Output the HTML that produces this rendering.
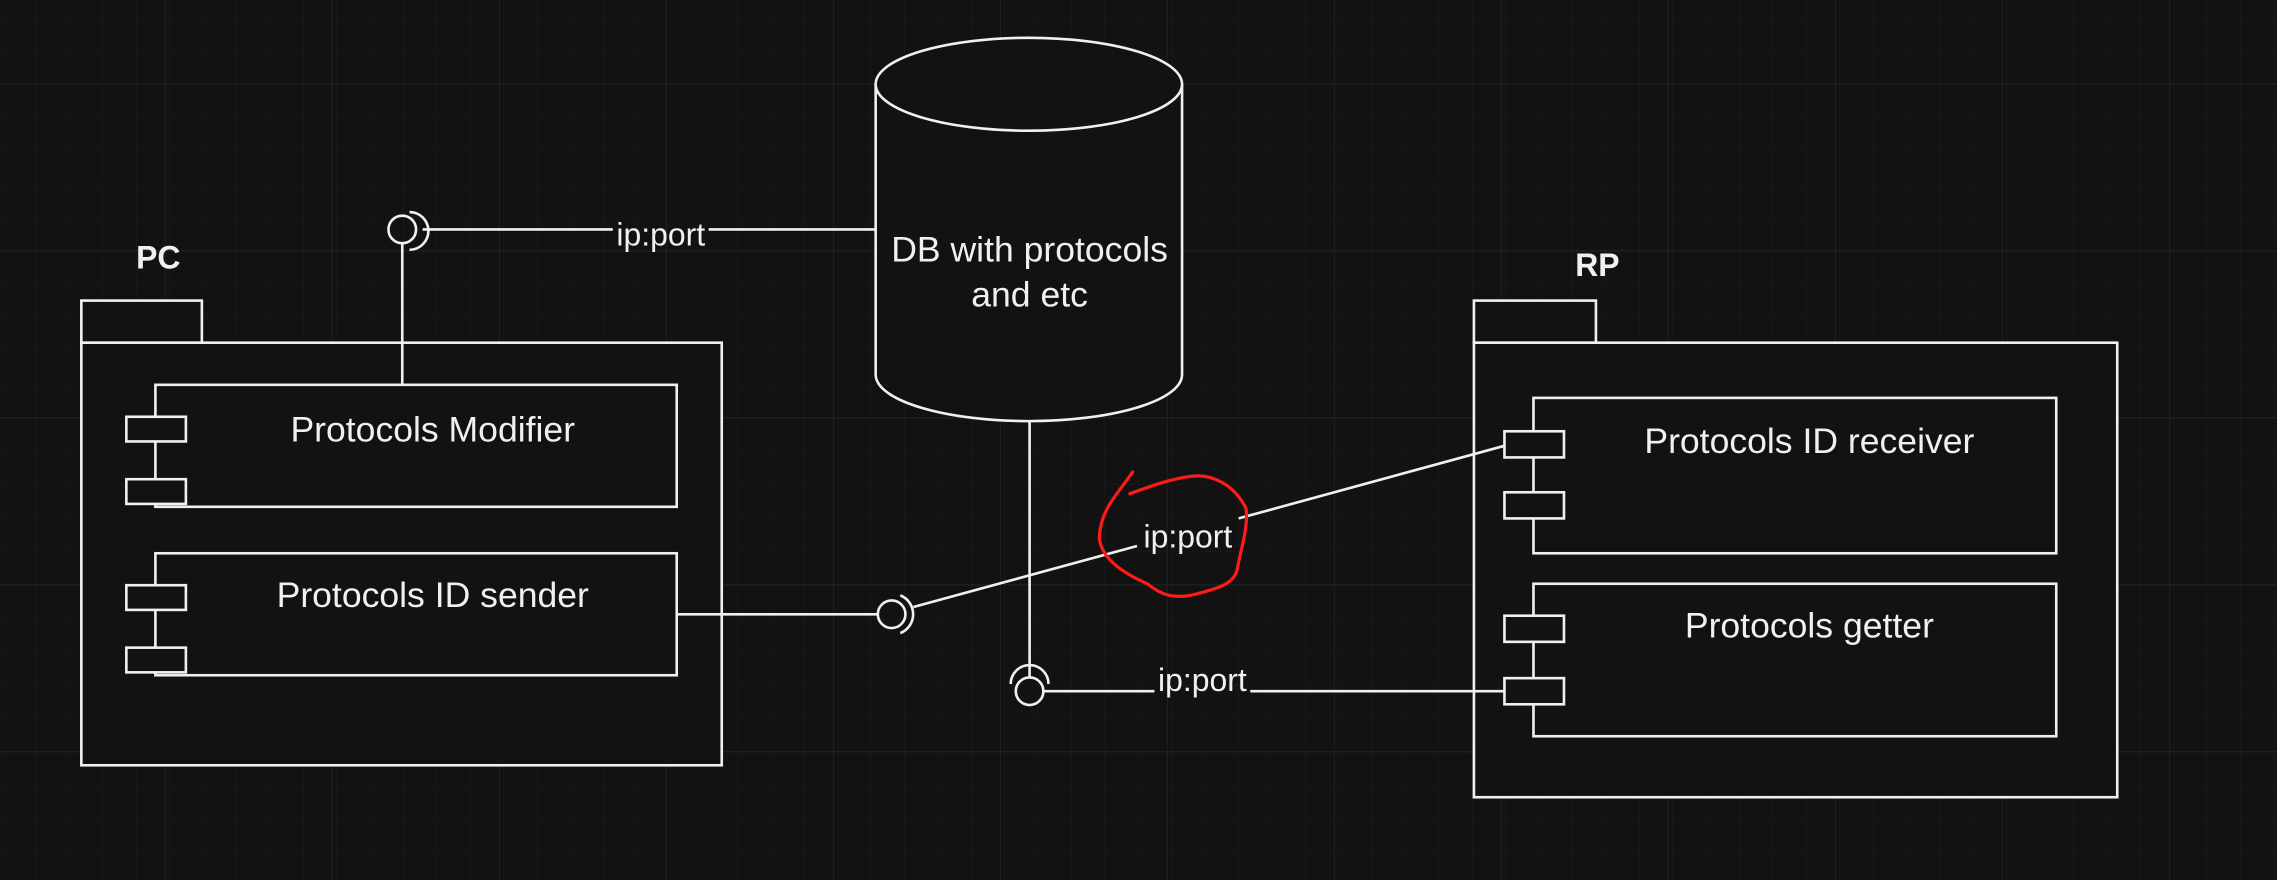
<!DOCTYPE html>
<html><head><meta charset="utf-8"><style>
html,body{margin:0;padding:0;background:#121212;}
svg{display:block}
text{font-family:"Liberation Sans",sans-serif;fill:#f0f0f0}
</style></head><body>
<svg width="2277" height="880" viewBox="0 0 1568 606" xmlns="http://www.w3.org/2000/svg">
<defs>
<pattern id="minor" x="2" y="12" width="23" height="23" patternUnits="userSpaceOnUse">
<path d="M23 0V23H0" fill="none" stroke="#1c1c1c" stroke-width="0.7"/>
</pattern>
<pattern id="major" x="-1" y="-57" width="115" height="115" patternUnits="userSpaceOnUse">
<path d="M115 0V115H0" fill="none" stroke="#2b2b2b" stroke-width="0.8"/>
</pattern>
</defs>
<rect width="1568" height="606" fill="#121212"/>
<rect width="1568" height="606" fill="url(#minor)"/>
<rect width="1568" height="606" fill="url(#major)"/>

<g fill="#121212" stroke="#f0f0f0" stroke-width="1.8">
<rect x="56" y="207" width="83" height="29"/>
<rect x="56" y="236" width="441" height="291"/>
<rect x="107" y="265" width="359" height="84"/>
<rect x="87" y="287" width="41" height="17"/>
<rect x="87" y="330" width="41" height="17"/>
<rect x="107" y="381" width="359" height="84"/>
<rect x="87" y="403" width="41" height="17"/>
<rect x="87" y="446" width="41" height="17"/>
<rect x="1015" y="207" width="84" height="29"/>
<rect x="1015" y="236" width="443" height="313"/>
<rect x="1056" y="274" width="360" height="107"/>
<rect x="1036" y="297" width="41" height="18"/>
<rect x="1036" y="339" width="41" height="18"/>
<rect x="1056" y="402" width="360" height="105"/>
<rect x="1036" y="424" width="41" height="18"/>
<rect x="1036" y="467" width="41" height="18"/>
<path d="M603 58 V258 A105.5 32 0 0 0 814 258 V58"/>
<ellipse cx="708.5" cy="58" rx="105.5" ry="32"/>
</g>

<g fill="none" stroke="#f0f0f0" stroke-width="1.8">
<line x1="277" y1="168" x2="277" y2="265"/>
<circle cx="277" cy="158" r="9.5"/>
<path d="M282 146 A13 13 0 0 1 282 172"/>
<line x1="291" y1="158" x2="422" y2="158"/>
<line x1="488" y1="158" x2="603" y2="158"/>
<line x1="466" y1="423" x2="605" y2="423"/>
<circle cx="614" cy="423" r="9.5"/>
<path d="M620 410 A14 14 0 0 1 620 436"/>
<line x1="629" y1="418" x2="783" y2="376"/>
<line x1="853" y1="357" x2="1036" y2="307"/>
<line x1="709" y1="290" x2="709" y2="466"/>
<circle cx="709" cy="476" r="9.5"/>
<path d="M696 471 A13 13 0 0 1 722 471"/>
<line x1="719" y1="476" x2="795" y2="476"/>
<line x1="861" y1="476" x2="1036" y2="476"/>
</g>

<path d="M780 325 C770 340 758 350 757 370 C758 384 772 394 790 402 C800 410 808 412 820 410 C840 405 850 402 852 392 C854 380 860 362 858 350 C850 334 835 326 820 328 C805 330 792 335 778 340" fill="none" stroke="#ff1a1a" stroke-width="2.2" stroke-linecap="round"/>

<text x="109" y="185" font-size="22" font-weight="bold" text-anchor="middle">PC</text>
<text x="1100" y="190" font-size="22" font-weight="bold" text-anchor="middle">RP</text>
<text x="298" y="304" font-size="24.5" text-anchor="middle">Protocols Modifier</text>
<text x="298" y="418" font-size="24.5" text-anchor="middle">Protocols ID sender</text>
<text x="1246" y="312" font-size="24.5" text-anchor="middle">Protocols ID receiver</text>
<text x="1246" y="439" font-size="24.5" text-anchor="middle">Protocols getter</text>
<text x="709" y="180" font-size="24.5" text-anchor="middle">DB with protocols</text>
<text x="709" y="211" font-size="24.5" text-anchor="middle">and etc</text>
<text x="455" y="169" font-size="22" text-anchor="middle">ip:port</text>
<text x="818" y="377" font-size="22" text-anchor="middle">ip:port</text>
<text x="828" y="476" font-size="22" text-anchor="middle">ip:port</text>
</svg>
</body></html>
